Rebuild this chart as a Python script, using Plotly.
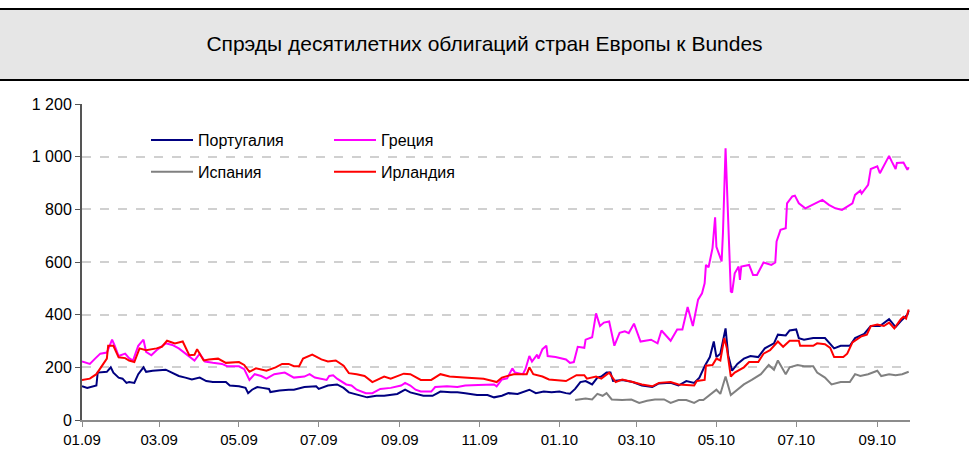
import plotly.graph_objects as go

# ---------------- data ----------------
pt_dates = ["2009-01-01","2009-01-05","2009-01-12","2009-01-13","2009-01-20","2009-01-23","2009-01-25","2009-01-29",
            "2009-02-01","2009-02-04","2009-02-06","2009-02-10","2009-02-13","2009-02-17","2009-02-19","2009-02-24",
            "2009-03-06","2009-03-11","2009-03-16","2009-03-21","2009-03-26","2009-04-01","2009-04-06","2009-04-11",
            "2009-04-21","2009-04-24","2009-05-01","2009-05-06","2009-05-08","2009-05-11","2009-05-15","2009-05-19",
            "2009-05-24","2009-05-25","2009-06-01","2009-06-08","2009-06-12","2009-06-20","2009-06-29","2009-07-01",
            "2009-07-08","2009-07-15","2009-07-20","2009-07-24","2009-07-31","2009-08-07","2009-08-14","2009-08-20",
            "2009-08-30","2009-09-05","2009-09-09","2009-09-14","2009-09-19","2009-09-26","2009-10-02","2009-10-10",
            "2009-10-15","2009-10-21","2009-10-30","2009-11-07","2009-11-12","2009-11-18","2009-11-23","2009-11-30",
            "2009-12-04","2009-12-09","2009-12-14","2009-12-20","2009-12-26","2010-01-01","2010-01-06","2010-01-09",
            "2010-01-13","2010-01-17","2010-01-21","2010-01-26","2010-01-30","2010-02-02","2010-02-06","2010-02-09",
            "2010-02-11","2010-02-18","2010-02-26","2010-03-05","2010-03-13","2010-03-18","2010-03-27","2010-04-02",
            "2010-04-08","2010-04-14","2010-04-18","2010-04-22","2010-04-26","2010-04-29","2010-05-01","2010-05-04",
            "2010-05-08","2010-05-10","2010-05-13","2010-05-17","2010-05-22","2010-05-27","2010-06-02","2010-06-07",
            "2010-06-14","2010-06-17","2010-06-23","2010-06-26","2010-07-01","2010-07-03","2010-07-07","2010-07-14",
            "2010-07-23","2010-07-24","2010-07-30","2010-08-04","2010-08-11","2010-08-15","2010-08-18","2010-08-22",
            "2010-08-27","2010-09-03","2010-09-10","2010-09-15","2010-09-19","2010-09-24","2010-09-25"]
pt_values = [128,122,131,180,183,200,180,161,
             157,141,144,141,174,200,183,187,
             191,180,167,161,154,161,148,144,
             144,131,128,122,102,115,125,122,
             118,106,112,115,115,125,128,118,
             131,135,122,105,95,86,92,92,
             99,115,105,99,92,92,108,105,
             105,102,95,95,86,92,102,99,
             105,115,102,108,105,108,102,100,
             118,144,148,135,161,165,180,180,
             148,152,144,131,125,139,141,131,
             148,141,161,204,239,298,239,252,
             348,246,187,213,233,243,239,272,
             291,324,321,340,344,311,305,311,
             311,305,272,282,282,311,318,327,
             357,357,383,353,376,400,415]

gr_dates = ["2009-01-01","2009-01-07","2009-01-11","2009-01-15","2009-01-20","2009-01-24","2009-01-26","2009-01-29",
            "2009-02-03","2009-02-06","2009-02-09","2009-02-13","2009-02-17","2009-02-19","2009-02-23","2009-02-27",
            "2009-03-06","2009-03-11","2009-03-16","2009-03-24","2009-03-28","2009-04-01","2009-04-05","2009-04-11",
            "2009-04-18","2009-04-22","2009-05-01","2009-05-05","2009-05-09","2009-05-13","2009-05-18","2009-05-22",
            "2009-05-28","2009-06-05","2009-06-12","2009-06-20","2009-06-24","2009-06-28","2009-07-07","2009-07-09",
            "2009-07-12","2009-07-15","2009-07-22","2009-07-26","2009-07-30","2009-08-06","2009-08-11","2009-08-17",
            "2009-08-25","2009-09-02","2009-09-05","2009-09-09","2009-09-13","2009-09-17","2009-09-25","2009-09-28",
            "2009-10-07","2009-10-15","2009-10-21","2009-10-31","2009-11-12","2009-11-14","2009-11-18","2009-11-22",
            "2009-11-26","2009-11-28","2009-12-04","2009-12-06","2009-12-09","2009-12-11","2009-12-15","2009-12-16",
            "2009-12-19","2009-12-22","2009-12-23","2009-12-29","2010-01-06","2010-01-09","2010-01-12","2010-01-15",
            "2010-01-20","2010-01-21","2010-01-26","2010-01-29","2010-02-01","2010-02-04","2010-02-08","2010-02-12",
            "2010-02-16","2010-02-20","2010-02-23","2010-02-27","2010-03-04","2010-03-12","2010-03-17","2010-03-20",
            "2010-03-27","2010-04-01","2010-04-05","2010-04-09","2010-04-13","2010-04-17","2010-04-20","2010-04-22",
            "2010-04-23","2010-04-25","2010-04-28","2010-04-30","2010-05-01","2010-05-05","2010-05-06","2010-05-08",
            "2010-05-12","2010-05-13","2010-05-15","2010-05-18","2010-05-19","2010-05-20","2010-05-26","2010-05-29",
            "2010-06-01","2010-06-06","2010-06-12","2010-06-15","2010-06-16","2010-06-19","2010-06-23","2010-06-24",
            "2010-06-28","2010-06-30","2010-07-03","2010-07-08","2010-07-13","2010-07-21","2010-07-26","2010-07-31",
            "2010-08-05","2010-08-13","2010-08-15","2010-08-19","2010-08-20","2010-08-25","2010-08-27","2010-09-01",
            "2010-09-03","2010-09-10","2010-09-12","2010-09-15","2010-09-16","2010-09-21","2010-09-24","2010-09-25"]
gr_values = [222,213,233,252,256,305,282,243,
             252,235,226,282,305,259,246,265,
             291,285,272,243,226,252,222,217,
             213,204,204,193,152,174,167,157,
             174,180,161,165,174,161,152,167,
             170,157,135,131,115,102,102,118,
             122,131,141,131,115,108,108,125,
             128,125,131,133,135,128,154,158,
             196,180,174,193,243,222,248,233,
             269,282,243,239,230,217,220,278,
             274,305,314,405,357,370,374,282,
             331,337,330,366,298,305,291,340,
             301,344,344,429,357,457,481,519,
             589,580,652,770,658,602,710,1032,
             488,484,557,583,532,583,589,551,
             551,598,589,598,678,722,728,823,
             849,852,823,804,817,836,817,804,
             798,823,855,871,860,893,953,963,
             937,1003,982,953,976,978,950,960]

es_dates = ["2010-01-13","2010-01-21","2010-01-26","2010-01-30","2010-02-03","2010-02-06","2010-02-10","2010-02-18",
            "2010-02-25","2010-03-03","2010-03-09","2010-03-15","2010-03-22","2010-03-27","2010-04-02","2010-04-08",
            "2010-04-14","2010-04-18","2010-04-21","2010-04-28","2010-05-01","2010-05-04","2010-05-08","2010-05-12",
            "2010-05-17","2010-05-22","2010-05-28","2010-06-04","2010-06-10","2010-06-14","2010-06-17","2010-06-23",
            "2010-06-26","2010-07-02","2010-07-07","2010-07-14","2010-07-17","2010-07-23","2010-07-28","2010-08-04",
            "2010-08-11","2010-08-15","2010-08-19","2010-08-25","2010-09-01","2010-09-04","2010-09-10","2010-09-15",
            "2010-09-20","2010-09-25"]
es_values = [76,82,78,99,92,102,78,76,
             78,65,73,78,78,65,76,76,
             65,76,76,102,115,99,165,95,
             115,135,152,174,209,191,226,174,
             200,209,204,204,180,161,135,144,
             144,174,167,174,187,167,174,170,
             174,183]

ie_dates = ["2009-01-01","2009-01-07","2009-01-12","2009-01-16","2009-01-20","2009-01-21","2009-01-25","2009-01-29",
            "2009-02-03","2009-02-06","2009-02-10","2009-02-14","2009-02-19","2009-02-27","2009-03-03","2009-03-07",
            "2009-03-13","2009-03-19","2009-03-24","2009-03-28","2009-03-30","2009-04-04","2009-04-08","2009-04-15",
            "2009-04-21","2009-05-01","2009-05-05","2009-05-09","2009-05-14","2009-05-22","2009-05-29","2009-06-03",
            "2009-06-08","2009-06-12","2009-06-16","2009-06-19","2009-06-26","2009-07-03","2009-07-08","2009-07-14",
            "2009-07-20","2009-07-24","2009-07-30","2009-08-05","2009-08-11","2009-08-20","2009-08-25","2009-09-04",
            "2009-09-09","2009-09-17","2009-09-25","2009-10-02","2009-10-09","2009-10-20","2009-11-04","2009-11-11",
            "2009-11-14","2009-11-18","2009-11-23","2009-11-27","2009-12-07","2009-12-09","2009-12-12","2009-12-19",
            "2009-12-24","2010-01-06","2010-01-14","2010-01-20","2010-01-22","2010-01-29","2010-02-02","2010-02-08",
            "2010-02-13","2010-02-18","2010-02-26","2010-03-05","2010-03-13","2010-03-18","2010-03-27","2010-04-02",
            "2010-04-14","2010-04-16","2010-04-22","2010-04-23","2010-04-28","2010-05-01","2010-05-04","2010-05-07",
            "2010-05-09","2010-05-12","2010-05-15","2010-05-22","2010-05-26","2010-06-02","2010-06-06","2010-06-11",
            "2010-06-17","2010-06-21","2010-06-26","2010-07-03","2010-07-04","2010-07-14","2010-07-17","2010-07-23",
            "2010-07-27","2010-07-30","2010-08-06","2010-08-09","2010-08-13","2010-08-16","2010-08-20","2010-08-24",
            "2010-08-27","2010-09-01","2010-09-06","2010-09-10","2010-09-14","2010-09-19","2010-09-21","2010-09-23",
            "2010-09-25"]
ie_values = [152,157,174,206,233,282,282,238,
             235,226,220,272,265,272,278,301,
             291,298,246,248,269,226,230,233,
             217,220,209,183,196,187,200,213,
             213,204,204,233,248,230,222,226,
             206,178,174,167,144,165,157,176,
             174,152,152,174,165,161,157,148,
             144,161,167,174,174,200,174,165,
             154,148,170,170,157,165,157,180,
             144,154,144,135,128,141,144,135,
             131,148,152,206,209,233,226,311,
             272,165,180,200,220,220,252,265,
             298,278,301,301,282,282,291,288,
             274,239,239,252,295,305,318,324,
             357,363,357,370,348,383,392,385,
             420]

x_tick_vals = ["2009-01-01","2009-03-01","2009-05-01","2009-07-01","2009-09-01","2009-11-01",
               "2010-01-01","2010-03-01","2010-05-01","2010-07-01","2010-09-01"]
x_tick_text = ["01.09","03.09","05.09","07.09","09.09","11.09","01.10","03.10","05.10","07.10","09.10"]
y_tick_vals = [0, 200, 400, 600, 800, 1000, 1200]
y_tick_text = ["0", "200", "400", "600", "800", "1 000", "1 200"]

title_text = "Спрэды десятилетних облигаций стран Европы к Bundes"

# ---------------- figure ----------------
FONT = "Liberation Sans, Arial, sans-serif"
fig = go.Figure()

series = [
    ("Португалия", pt_dates, pt_values, "#000080", "legend"),
    ("Греция", gr_dates, gr_values, "#ff00ff", "legend2"),
    ("Испания", es_dates, es_values, "#808080", "legend"),
    ("Ирландия", ie_dates, ie_values, "#ff0000", "legend2"),
]
for name, d, v, c, lg in series:
    fig.add_trace(go.Scatter(x=d, y=v, name=name, mode="lines",
                             line=dict(color=c, width=2),
                             legend=lg, legendgroup=name, hoverinfo="skip"))

W, H = 969, 474
L, R, T, B = 82, 59, 104, 54
pw, ph = W - L - R, H - T - B

def px(xp):
    return (xp - L) / pw

def py(yp):
    return (H - B - yp) / ph

legend_common = dict(font=dict(family=FONT, size=16, color="black"),
                     bgcolor="rgba(0,0,0,0)", borderwidth=0,
                     traceorder="grouped", tracegroupgap=8,
                     itemwidth=42, xanchor="left", yanchor="top", orientation="v")

fig.update_layout(
    width=W, height=H,
    margin=dict(l=L, r=R, t=T, b=B, pad=0),
    paper_bgcolor="white", plot_bgcolor="white",
    font=dict(family=FONT, size=15, color="black"),
    title=dict(text=title_text, x=0.5, xref="container", xanchor="center",
               y=1 - 44 / H, yref="container", yanchor="middle",
               font=dict(family=FONT, size=21, color="black")),
    showlegend=True,
    legend=dict(x=px(146), y=py(123), **legend_common),
    legend2=dict(x=px(329), y=py(123), **legend_common),
    xaxis=dict(type="date", range=["2009-01-01", "2010-09-26"],
               tickvals=x_tick_vals, ticktext=x_tick_text,
               showgrid=False, zeroline=False,
               showline=True, linecolor="#8c8c8c", linewidth=2,
               ticks="outside", ticklen=5, tickwidth=1, tickcolor="#8c8c8c",
               tickfont=dict(family=FONT, size=15, color="black")),
    yaxis=dict(range=[0, 1200], tickvals=y_tick_vals, ticktext=y_tick_text,
               showgrid=True, gridcolor="#d0d0d0", gridwidth=1.5, griddash="dash",
               zeroline=False,
               showline=True, linecolor="#555555", linewidth=2,
               ticks="outside", ticklen=5, tickwidth=1, tickcolor="#555555",
               tickfont=dict(family=FONT, size=16, color="black")),
    shapes=[
        dict(type="rect", xref="paper", yref="paper",
             x0=px(0), x1=px(W), y0=py(80), y1=py(9),
             fillcolor="#e6e6e6", line=dict(width=0), layer="below"),
        dict(type="line", xref="paper", yref="paper",
             x0=px(0), x1=px(W), y0=py(9), y1=py(9),
             line=dict(color="black", width=2)),
        dict(type="line", xref="paper", yref="paper",
             x0=px(0), x1=px(W), y0=py(80), y1=py(80),
             line=dict(color="black", width=2)),
    ],
)

# remove the browser's default 8px page margin so the figure sits at (0, 0)
fig.write_html("out.html", config={"displayModeBar": False},
               post_script="document.body.style.margin='0';")
